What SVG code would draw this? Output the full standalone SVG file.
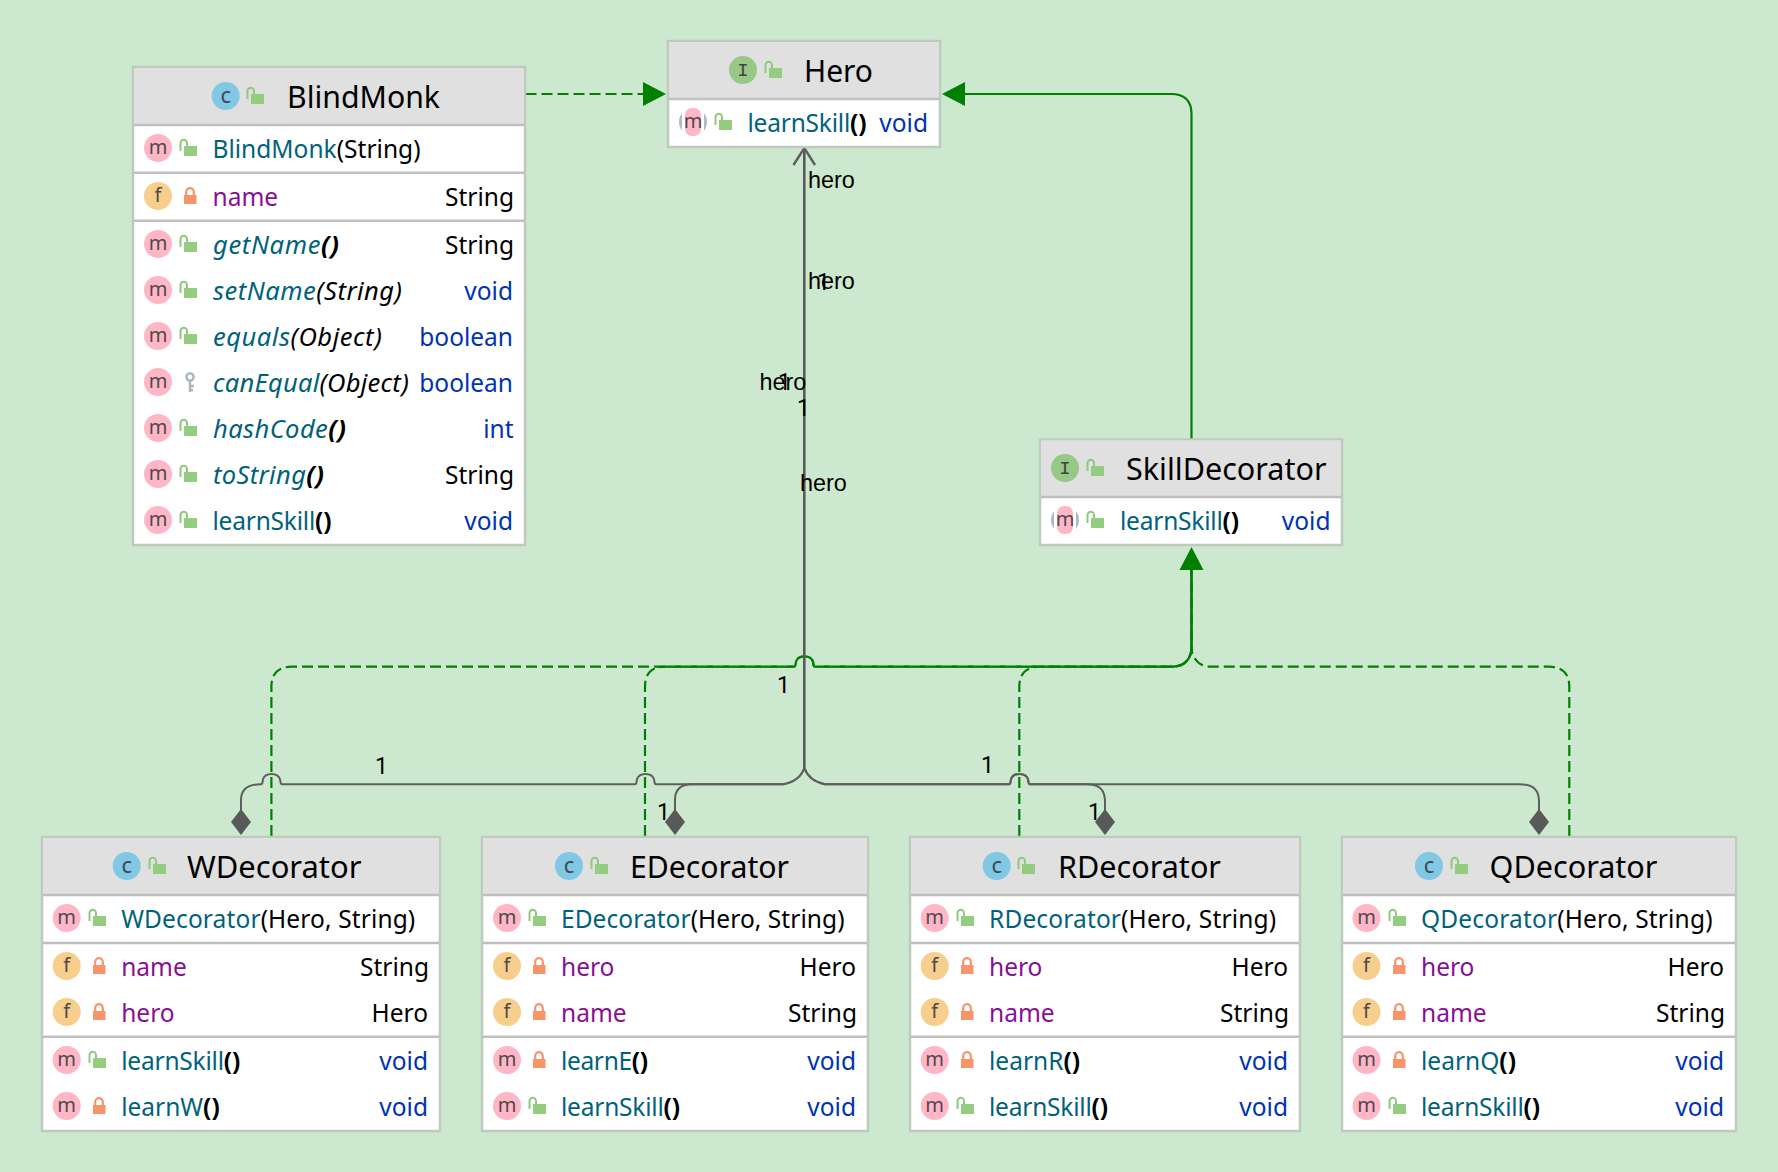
<svg xmlns="http://www.w3.org/2000/svg" width="1778" height="1172" viewBox="0 0 1778 1172">
<style>
text{font-family:"Noto Sans","Open Sans",sans-serif;font-size:24.5px;fill:#000}
.t{font-size:31px}
.n{fill:#00627a}
.p{fill:#871094}
.v{fill:#0033b3}
.r{text-anchor:end}
.i{font-style:italic;font-size:25.5px}
.b{font-weight:700}
text.l{font-family:"Liberation Sans",Arial,sans-serif;font-size:23.4px;fill:#000}
text.o{font-family:Roboto,"Liberation Sans",sans-serif;font-size:23px;fill:#000}
text.g{font-family:"Noto Sans",sans-serif;font-size:20px;fill:#4f4a4a;text-anchor:middle}
text.c{font-family:"Noto Sans",sans-serif;font-size:22px;fill:#3e4a55;text-anchor:middle}
text.k{font-family:"Liberation Mono",monospace;font-size:19px;fill:#444;text-anchor:middle}
.box{fill:#fff;stroke:#bfcabf;stroke-width:2.5}
.hd{fill:#e0e0e0}
.dv{stroke:#bfbfbf;stroke-width:2.4;fill:none}
.ds{fill:none;stroke:#008000;stroke-width:2.2;stroke-dasharray:11 5}
.so{fill:none;stroke:#008000;stroke-width:2.2}
.gy{fill:none;stroke:#5e5e5e;stroke-width:2}
.gv{fill:none;stroke:#5a5a5a;stroke-width:2.6}
.gf{fill:#008000}
.df{fill:#595959}
</style>
<defs>
<circle id="cm" r="14" fill="#ffb6c6"/>
<circle id="cf" r="14" fill="#f8ce8c"/>
<circle id="cc" r="14" fill="#80c8e3"/>
<circle id="ci" r="14" fill="#98c886"/>
<g id="pub"><rect x="-6" y="-2" width="13" height="10" fill="#94cd80"/><path d="M-9.5,3V-5a3.2,3.2 0 0 1 6.5,0V-2" fill="none" stroke="#8fca7c" stroke-width="2"/></g>
<g id="pri"><rect x="-6" y="-1" width="12.5" height="9" fill="#f79469"/><path d="M-3.8,-1V-4a3.8,3.8 0 0 1 7.6,0V-1" fill="none" stroke="#f79469" stroke-width="2.2"/></g>
<g id="abs"><circle r="14" fill="#afbac4"/><rect x="-11" y="-14" width="22" height="28" fill="#fff"/><rect x="-8" y="-14" width="16" height="28" rx="7" fill="#ffb6c6"/></g>
</defs>
<rect width="1778" height="1172" fill="#cce8cf"/>

<g id="connectors">
<path class="ds" d="M271.4,836V687Q271.4,666.7 292,666.7H794c2,0 1.5,-4 2,-5c1,-3.5 4,-5.3 8.5,-5.3c4.5,0 7.5,1.8 8.5,5.3c.5,1 0,5 2,5H1173Q1189,666 1191.5,650V570"/>
<path class="ds" d="M645,836V687Q645,666.7 665,666.7H794c2,0 1.5,-4 2,-5c1,-3.5 4,-5.3 8.5,-5.3c4.5,0 7.5,1.8 8.5,5.3c.5,1 0,5 2,5H1173Q1189,666 1191.5,650V570"/>
<path class="ds" d="M1019.3,836V687Q1019.3,666.7 1040,666.7H1173Q1189,666 1191.5,650V570"/>
<path class="ds" d="M1569.3,836V687Q1569.3,666.7 1549,666.7H1210Q1195,666 1191.5,650V570"/>
<path class="so" d="M1191.5,440V114Q1191.5,94 1171,94H965"/>
<path class="ds" d="M525.5,94H645"/>
<path class="so" d="M656,666.7H794c2,0 1.5,-4 2,-5c1,-3.5 4,-5.3 8.5,-5.3c4.5,0 7.5,1.8 8.5,5.3c.5,1 0,5 2,5H1173Q1189,666 1191.5,650V570" style="stroke-width:1.4"/>
<polygon class="gf" points="666,94 643,82 643,106"/>
<polygon class="gf" points="942,94 965,82 965,106"/>
<polygon class="gf" points="1191.5,547 1179.5,570 1203.5,570"/>
<path class="gy" d="M241,810V800C241,790 247,784.3 261,784.3c2,0 1.5,-4 2,-5c1,-3.5 4,-5.3 8.5,-5.3c4.5,0 7.5,1.8 8.5,5.3c.5,1 0,5 2,5H635c2,0 1.5,-4 2,-5c1,-3.5 4,-5.3 8.5,-5.3c4.5,0 7.5,1.8 8.5,5.3c.5,1 0,5 2,5H783Q800,781 804.3,768"/>
<path class="gy" d="M675,810V800C675,790 680,784.3 692,784.3H783Q800,781 804.3,768"/>
<path class="gy" d="M1105,810V802C1105,790 1100,784.3 1086,784.3H1030c-2,0 -1.5,-4 -2,-5c-1,-3.5 -4,-5.3 -8.5,-5.3c-4.5,0 -7.5,1.8 -8.5,5.3c-.5,1 0,5 -2,5H825Q809,781 804.3,768"/>
<path class="gy" d="M1539,810V802C1539,790 1534,784.3 1519,784.3H1030c-2,0 -1.5,-4 -2,-5c-1,-3.5 -4,-5.3 -8.5,-5.3c-4.5,0 -7.5,1.8 -8.5,5.3c-.5,1 0,5 -2,5H825Q809,781 804.3,768"/>
<path class="gv" d="M804.3,768V149"/>
<path class="gy" d="M793.5,165L804.3,148L815,165" style="stroke-width:2.4"/>
<polygon class="df" points="241,809 251,822 241,835 231,822"/>
<polygon class="df" points="675,809 685,822 675,835 665,822"/>
<polygon class="df" points="1105,809 1115,822 1105,835 1095,822"/>
<polygon class="df" points="1539,809 1549,822 1539,835 1529,822"/>
<text class="l" x="808" y="187.5">hero</text>
<text class="l" x="808" y="289">hero</text>
<text class="l" x="759.5" y="390">hero</text>
<text class="l" x="800" y="491">hero</text>
<text class="o" x="817" y="290">1</text>
<text class="o" x="778" y="390">1</text>
<text class="o" x="797" y="416">1</text>
<text class="o" x="777" y="693">1</text>
<text class="o" x="375" y="774">1</text>
<text class="o" x="657" y="820">1</text>
<text class="o" x="981" y="773">1</text>
<text class="o" x="1088" y="820">1</text>
</g>

<g id="BlindMonk">
<rect class="box" x="133" y="67" width="392" height="478"/>
<rect class="hd" x="134" y="68" width="390" height="57"/>
<path class="dv" d="M134,125H524M134,172.7H524M134,220.7H524"/>
<use href="#cc" x="225.7" y="96"/><text class="c" x="225.7" y="103">c</text><use href="#pub" x="257" y="96"/>
<text class="t" x="287" y="108" textLength="153" lengthAdjust="spacingAndGlyphs">BlindMonk</text>
<use href="#cm" x="158" y="148"/><text class="g" x="158" y="154">m</text><use href="#pub" x="190" y="148"/>
<text x="212.5" y="157.5" textLength="208"><tspan class="n">BlindMonk</tspan>(String)</text>
<use href="#cf" x="158" y="196"/><text class="g" x="158" y="202">f</text><use href="#pri" x="190" y="196"/>
<text class="p" x="212.5" y="205.5">name</text><text class="r" x="514" y="205.5">String</text>
<use href="#cm" x="158" y="244"/><text class="g" x="158" y="250">m</text><use href="#pub" x="190" y="244"/>
<text class="i" x="213" y="253.5" textLength="126"><tspan class="n">getName</tspan><tspan class="b">()</tspan></text><text class="r" x="514" y="253.5">String</text>
<use href="#cm" x="158" y="290"/><text class="g" x="158" y="296">m</text><use href="#pub" x="190" y="290"/>
<text class="i" x="213" y="299.5" textLength="189"><tspan class="n">setName</tspan>(String)</text><text class="r v" x="513" y="299.5">void</text>
<use href="#cm" x="158" y="336"/><text class="g" x="158" y="342">m</text><use href="#pub" x="190" y="336"/>
<text class="i" x="213" y="345.5" textLength="169"><tspan class="n">equals</tspan>(Object)</text><text class="r v" x="513" y="345.5">boolean</text>
<use href="#cm" x="158" y="382"/><text class="g" x="158" y="388">m</text>
<path d="M190,381V392M190,386H194M190,390H193" fill="none" stroke="#a9b5bf" stroke-width="2.4"/><circle cx="190" cy="377" r="3.6" fill="none" stroke="#a9b5bf" stroke-width="2.4"/>
<text class="i" x="213" y="391.5" textLength="196"><tspan class="n">canEqual</tspan>(Object)</text><text class="r v" x="513" y="391.5">boolean</text>
<use href="#cm" x="158" y="428"/><text class="g" x="158" y="434">m</text><use href="#pub" x="190" y="428"/>
<text class="i" x="213" y="437.5" textLength="133"><tspan class="n">hashCode</tspan><tspan class="b">()</tspan></text><text class="r v" x="513.5" y="437.5">int</text>
<use href="#cm" x="158" y="474"/><text class="g" x="158" y="480">m</text><use href="#pub" x="190" y="474"/>
<text class="i" x="213" y="483.5" textLength="111"><tspan class="n">toString</tspan><tspan class="b">()</tspan></text><text class="r" x="514" y="483.5">String</text>
<use href="#cm" x="158" y="520"/><text class="g" x="158" y="526">m</text><use href="#pub" x="190" y="520"/>
<text x="212.5" y="529.5" textLength="119"><tspan class="n">learnSkill</tspan><tspan class="b">()</tspan></text><text class="r v" x="513" y="529.5">void</text>
</g>

<g id="Hero">
<rect class="box" x="668" y="41" width="272" height="106"/>
<rect class="hd" x="669" y="42" width="270" height="57"/>
<path class="dv" d="M669,99H939"/>
<use href="#ci" x="743" y="70"/><text class="k" x="743" y="76">I</text><use href="#pub" x="775" y="70"/>
<text class="t" x="804" y="82" textLength="69" lengthAdjust="spacingAndGlyphs">Hero</text>
<use href="#abs" x="693" y="122"/><text class="g" x="693" y="128">m</text><use href="#pub" x="725" y="122"/>
<text x="747.5" y="131.5" textLength="119"><tspan class="n">learnSkill</tspan><tspan class="b">()</tspan></text><text class="r v" x="928" y="131.5">void</text>
</g>

<g id="SkillDecorator">
<rect class="box" x="1040" y="439.5" width="302" height="105.5"/>
<rect class="hd" x="1041" y="440.5" width="300" height="56"/>
<path class="dv" d="M1041,497H1341"/>
<use href="#ci" x="1065" y="468"/><text class="k" x="1065" y="474">I</text><use href="#pub" x="1097" y="468"/>
<text class="t" x="1126" y="480" textLength="200.5" lengthAdjust="spacingAndGlyphs">SkillDecorator</text>
<use href="#abs" x="1065" y="520"/><text class="g" x="1065" y="526">m</text><use href="#pub" x="1097" y="520"/>
<text x="1120" y="529.5" textLength="119"><tspan class="n">learnSkill</tspan><tspan class="b">()</tspan></text><text class="r v" x="1330.5" y="529.5">void</text>
</g>

<g id="WDecorator">
<rect class="box" x="42" y="837" width="398" height="294"/>
<rect class="hd" x="43" y="838" width="396" height="57"/>
<path class="dv" d="M43,895H439M43,943H439M43,1036.7H439"/>
<use href="#cc" x="126.7" y="866"/><text class="c" x="126.7" y="873">c</text><use href="#pub" x="159" y="866"/>
<text class="t" x="187" y="878" textLength="174.5" lengthAdjust="spacingAndGlyphs">WDecorator</text>
<use href="#cm" x="66.7" y="918"/><text class="g" x="66.7" y="924">m</text><use href="#pub" x="99" y="918"/>
<text x="121.2" y="927.5" textLength="294"><tspan class="n">WDecorator</tspan>(Hero, String)</text>
<use href="#cf" x="66.7" y="966"/><text class="g" x="66.7" y="972">f</text><use href="#pri" x="99" y="966"/>
<text class="p" x="121.2" y="975.5">name</text><text class="r" x="429" y="975.5">String</text>
<use href="#cf" x="66.7" y="1012"/><text class="g" x="66.7" y="1018">f</text><use href="#pri" x="99" y="1012"/>
<text class="p" x="121.2" y="1021.5">hero</text><text class="r" x="428" y="1021.5">Hero</text>
<use href="#cm" x="66.7" y="1060"/><text class="g" x="66.7" y="1066">m</text><use href="#pub" x="99" y="1060"/>
<text x="121.2" y="1069.5" textLength="119"><tspan class="n">learnSkill</tspan><tspan class="b">()</tspan></text><text class="r v" x="428" y="1069.5">void</text>
<use href="#cm" x="66.7" y="1106"/><text class="g" x="66.7" y="1112">m</text><use href="#pri" x="99" y="1106"/>
<text x="121.2" y="1115.5" textLength="98.5"><tspan class="n">learnW</tspan><tspan class="b">()</tspan></text><text class="r v" x="428" y="1115.5">void</text>
</g>

<g id="EDecorator">
<rect class="box" x="482" y="837" width="386" height="294"/>
<rect class="hd" x="483" y="838" width="384" height="57"/>
<path class="dv" d="M483,895H867M483,943H867M483,1036.7H867"/>
<use href="#cc" x="569" y="866"/><text class="c" x="569" y="873">c</text><use href="#pub" x="601" y="866"/>
<text class="t" x="630" y="878" textLength="159" lengthAdjust="spacingAndGlyphs">EDecorator</text>
<use href="#cm" x="507" y="918"/><text class="g" x="507" y="924">m</text><use href="#pub" x="539" y="918"/>
<text x="561" y="927.5" textLength="283.5"><tspan class="n">EDecorator</tspan>(Hero, String)</text>
<use href="#cf" x="507" y="966"/><text class="g" x="507" y="972">f</text><use href="#pri" x="539" y="966"/>
<text class="p" x="561" y="975.5">hero</text><text class="r" x="856" y="975.5">Hero</text>
<use href="#cf" x="507" y="1012"/><text class="g" x="507" y="1018">f</text><use href="#pri" x="539" y="1012"/>
<text class="p" x="561" y="1021.5">name</text><text class="r" x="857" y="1021.5">String</text>
<use href="#cm" x="507" y="1060"/><text class="g" x="507" y="1066">m</text><use href="#pri" x="539" y="1060"/>
<text x="561" y="1069.5" textLength="87"><tspan class="n">learnE</tspan><tspan class="b">()</tspan></text><text class="r v" x="856" y="1069.5">void</text>
<use href="#cm" x="507" y="1106"/><text class="g" x="507" y="1112">m</text><use href="#pub" x="539" y="1106"/>
<text x="561" y="1115.5" textLength="119"><tspan class="n">learnSkill</tspan><tspan class="b">()</tspan></text><text class="r v" x="856" y="1115.5">void</text>
</g>

<g id="RDecorator">
<rect class="box" x="910" y="837" width="390" height="294"/>
<rect class="hd" x="911" y="838" width="388" height="57"/>
<path class="dv" d="M911,895H1299M911,943H1299M911,1036.7H1299"/>
<use href="#cc" x="996.7" y="866"/><text class="c" x="996.7" y="873">c</text><use href="#pub" x="1028" y="866"/>
<text class="t" x="1058" y="878" textLength="163" lengthAdjust="spacingAndGlyphs">RDecorator</text>
<use href="#cm" x="934.7" y="918"/><text class="g" x="934.7" y="924">m</text><use href="#pub" x="967" y="918"/>
<text x="989" y="927.5" textLength="287"><tspan class="n">RDecorator</tspan>(Hero, String)</text>
<use href="#cf" x="934.7" y="966"/><text class="g" x="934.7" y="972">f</text><use href="#pri" x="967" y="966"/>
<text class="p" x="989" y="975.5">hero</text><text class="r" x="1288" y="975.5">Hero</text>
<use href="#cf" x="934.7" y="1012"/><text class="g" x="934.7" y="1018">f</text><use href="#pri" x="967" y="1012"/>
<text class="p" x="989" y="1021.5">name</text><text class="r" x="1289" y="1021.5">String</text>
<use href="#cm" x="934.7" y="1060"/><text class="g" x="934.7" y="1066">m</text><use href="#pri" x="967" y="1060"/>
<text x="989" y="1069.5" textLength="91"><tspan class="n">learnR</tspan><tspan class="b">()</tspan></text><text class="r v" x="1288" y="1069.5">void</text>
<use href="#cm" x="934.7" y="1106"/><text class="g" x="934.7" y="1112">m</text><use href="#pub" x="967" y="1106"/>
<text x="989" y="1115.5" textLength="119"><tspan class="n">learnSkill</tspan><tspan class="b">()</tspan></text><text class="r v" x="1288" y="1115.5">void</text>
</g>

<g id="QDecorator">
<rect class="box" x="1342" y="837" width="394" height="294"/>
<rect class="hd" x="1343" y="838" width="392" height="57"/>
<path class="dv" d="M1343,895H1735M1343,943H1735M1343,1036.7H1735"/>
<use href="#cc" x="1429" y="866"/><text class="c" x="1429" y="873">c</text><use href="#pub" x="1461" y="866"/>
<text class="t" x="1489.5" y="878" textLength="168" lengthAdjust="spacingAndGlyphs">QDecorator</text>
<use href="#cm" x="1366.5" y="918"/><text class="g" x="1366.5" y="924">m</text><use href="#pub" x="1399" y="918"/>
<text x="1421" y="927.5" textLength="291.5"><tspan class="n">QDecorator</tspan>(Hero, String)</text>
<use href="#cf" x="1366.5" y="966"/><text class="g" x="1366.5" y="972">f</text><use href="#pri" x="1399" y="966"/>
<text class="p" x="1421" y="975.5">hero</text><text class="r" x="1724" y="975.5">Hero</text>
<use href="#cf" x="1366.5" y="1012"/><text class="g" x="1366.5" y="1018">f</text><use href="#pri" x="1399" y="1012"/>
<text class="p" x="1421" y="1021.5">name</text><text class="r" x="1725" y="1021.5">String</text>
<use href="#cm" x="1366.5" y="1060"/><text class="g" x="1366.5" y="1066">m</text><use href="#pri" x="1399" y="1060"/>
<text x="1421" y="1069.5" textLength="95"><tspan class="n">learnQ</tspan><tspan class="b">()</tspan></text><text class="r v" x="1724" y="1069.5">void</text>
<use href="#cm" x="1366.5" y="1106"/><text class="g" x="1366.5" y="1112">m</text><use href="#pub" x="1399" y="1106"/>
<text x="1421" y="1115.5" textLength="119"><tspan class="n">learnSkill</tspan><tspan class="b">()</tspan></text><text class="r v" x="1724" y="1115.5">void</text>
</g>
</svg>
